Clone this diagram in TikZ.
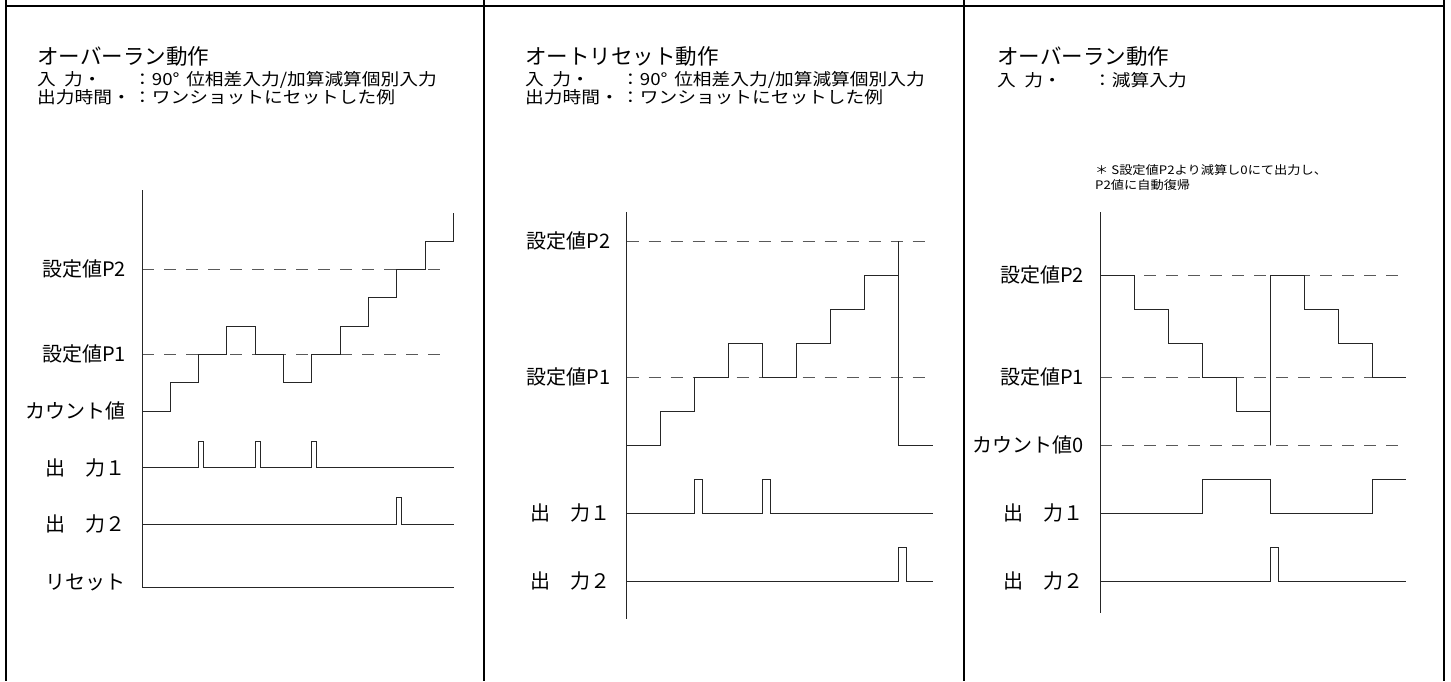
\documentclass[tikz,border=0pt]{standalone}
\usepackage{fontspec}
\setmainfont{Noto Sans CJK JP}
\newfontfamily\jpwide[FakeStretch=1.12]{Noto Sans CJK JP}
\newcommand{\ttlfont}{\fontsize{21.5pt}{24pt}\selectfont}
\newcommand{\txtfont}{\jpwide\fontsize{16.7pt}{18pt}\selectfont}
\newcommand{\notefont}{\jpwide\fontsize{11.8pt}{13pt}\selectfont}
\newcommand{\lblfont}{\fontsize{20pt}{22pt}\selectfont}
\newcommand{\keybox}[1]{\makebox[96pt][l]{#1}}

\begin{document}
\begin{tikzpicture}[x=1pt, y=-1pt]
    \tikzset{ttl/.style = {anchor=west, inner sep=0pt, font=\ttlfont}}
    \tikzset{txt/.style = {anchor=west, inner sep=0pt, font=\txtfont}}
    \tikzset{note/.style = {anchor=west, inner sep=0pt, font=\notefont}}
    \tikzset{lbl/.style = {anchor=east, inner sep=0pt, xshift=-16pt, font=\lblfont}}
    \tikzset{sig/.style = {draw=black!85, line width=1pt}}
    \tikzset{lvl/.style = {draw=black!65, line width=1pt, dash pattern=on 12pt off 10pt}}
    \tikzset{frm/.style = {draw=black, line width=1.4pt}}

    \useasboundingbox (0,0) rectangle (1451,681);

    % frame
    \draw[frm] (6,6) -- (1444,6);
    \foreach \x in {6,484,964,1444}
        \draw[frm] (\x,0) -- (\x,681);

    % texts
    \node[ttl] (ttlA) at (37,56) {オーバーラン動作};
    \node[txt] (inA) at (37,80) {\keybox{入\hspace{0.5em}力・}：90°\hspace{0.4em}位相差入力/加算減算個別入力};
    \node[txt] (tmA) at (37,97) {\keybox{出力時間・}：ワンショットにセットした例};

    \node[ttl] (ttlB) at (525,56) {オートリセット動作};
    \node[txt] (inB) at (525,80) {\keybox{入\hspace{0.5em}力・}：90°\hspace{0.4em}位相差入力/加算減算個別入力};
    \node[txt] (tmB) at (525,97) {\keybox{出力時間・}：ワンショットにセットした例};

    \node[ttl] (ttlC) at (997,56) {オーバーラン動作};
    \node[txt] (inC) at (997,80) {\keybox{入\hspace{0.5em}力・}：減算入力};
    \node[note] (noteC) at (1095,170) {＊ S設定値P2より減算し0にて出力し、};
    \node[note] (noteD) at (1095,185) {P2値に自動復帰};

    % panel A: overrun
    \begin{scope}[shift={(142,411)}, x=28.33pt, y=28.33pt]
        \draw[lvl] (0,5) -- (10.85,5);
        \draw[lvl] (0,2) -- (10.85,2);
        \draw[sig] (0,7.8) -- (0,-6.24);
        \draw[sig] (0,0) -| (1,1) -| (2,2) -| (3,3) -| (4,2) -| (5,1) -| (6,2) -| (7,3) -| (8,4) -| (9,5) -| (10,6) -| (11,7);
        \draw[sig] (0,-2) -| (2,-1.07) -| (2.17,-2) -| (4,-1.07) -| (4.17,-2) -| (6,-1.07) -| (6.17,-2) -- (11,-2);
        \draw[sig] (0,-4) -| (9,-3.07) -| (9.17,-4) -- (11,-4);
        \draw[sig] (0,-6.24) -- (11,-6.24);
        \node[lbl] (p2A) at (0,5) {設定値P2};
        \node[lbl] (p1A) at (0,2) {設定値P1};
        \node[lbl] (cntA) at (0,0) {カウント値};
        \node[lbl] (outA1) at (0,-2) {出　力１};
        \node[lbl] (outA2) at (0,-4) {出　力２};
        \node[lbl] (rstA) at (0,-6.04) {リセット};
    \end{scope}

    % panel B: auto reset
    \begin{scope}[shift={(626.7,445)}, x=34pt, y=34pt]
        \draw[lvl] (0,6) -- (9,6);
        \draw[lvl] (0,2) -- (9,2);
        \draw[sig] (0,6.86) -- (0,-5.12);
        \draw[sig] (0,0) -| (1,1) -| (2,2) -| (3,3) -| (4,2) -| (5,3) -| (6,4) -| (7,5) -| (8,6) -- (8,0) -- (9,0);
        \draw[sig] (0,-2) -| (2,-1) -| (2.24,-2) -| (4,-1) -| (4.24,-2) -- (9,-2);
        \draw[sig] (0,-4) -| (8,-3) -| (8.24,-4) -- (9,-4);
        \node[lbl] (p2B) at (0,6) {設定値P2};
        \node[lbl] (p1B) at (0,2) {設定値P1};
        \node[lbl] (outB1) at (0,-2) {出　力１};
        \node[lbl] (outB2) at (0,-4) {出　力２};
    \end{scope}

    % panel C: overrun, down count
    \begin{scope}[shift={(1100,445.3)}, x=34pt, y=34pt]
        \draw[lvl] (0,5) -- (9,5);
        \draw[lvl] (0,2) -- (9,2);
        \draw[lvl] (0,0) -- (9,0);
        \draw[sig] (0,6.85) -- (0,-4.92);
        \draw[sig] (0,5) -| (1,4) -| (2,3) -| (3,2) -| (4,1) -| (5,0) -- (5,5) -| (6,4) -| (7,3) -| (8,2) -- (9,2);
        \draw[sig] (0,-2) -| (3,-1) -| (5,-2) -| (8,-1) -- (9,-1);
        \draw[sig] (0,-4) -| (5,-3) -| (5.25,-4) -- (9,-4);
        \node[lbl] (p2C) at (0,5) {設定値P2};
        \node[lbl] (p1C) at (0,2) {設定値P1};
        \node[lbl] (cntC) at (0,0) {カウント値0};
        \node[lbl] (outC1) at (0,-2) {出　力１};
        \node[lbl] (outC2) at (0,-4) {出　力２};
    \end{scope}
\end{tikzpicture}
\end{document}
